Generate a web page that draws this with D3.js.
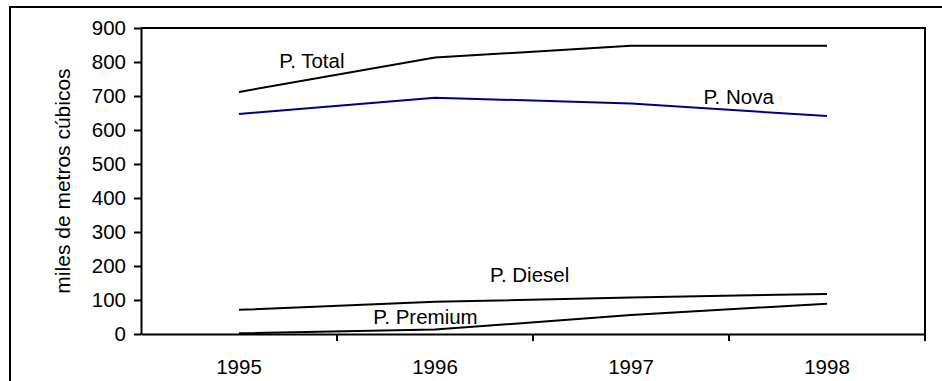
<!DOCTYPE html>
<html>
<head>
<meta charset="utf-8">
<script src="https://cdn.jsdelivr.net/npm/d3@7"></script>
<style>
  html, body { margin: 0; padding: 0; background: #fff; }
  svg { display: block; }
  text { font-family: "Liberation Sans", Arial, Helvetica, sans-serif; fill: #000; }
</style>
</head>
<body>
<svg id="chart" width="942" height="381"></svg>
<script>
// Years on the category axis
const years = ["1995", "1996", "1997", "1998"];

// Production by product, thousands of cubic metres
const total   = [712, 813, 848, 848];
const nova    = [647, 695, 678, 641];
const diesel  = [71, 95, 107, 118];
const premium = [2, 13, 56, 89];

const yTicks = [0, 100, 200, 300, 400, 500, 600, 700, 800, 900];
const yTitle = "miles de metros cúbicos";

const series = [
  { name: "P. Total",   values: total,   color: "#000000" },
  { name: "P. Nova",    values: nova,    color: "#000080" },
  { name: "P. Diesel",  values: diesel,  color: "#000000" },
  { name: "P. Premium", values: premium, color: "#000000" }
];

const svg = d3.select("#chart");
const plot = { left: 141, right: 925, top: 28, bottom: 334 };

// Outer chart frame (runs past the right and bottom edges of the view)
svg.append("rect")
  .attr("x", 10).attr("y", 7)
  .attr("width", 960).attr("height", 400)
  .attr("fill", "none").attr("stroke", "#000").attr("stroke-width", 2);

const x = d3.scaleBand().domain(years).range([plot.left, plot.right]).paddingInner(0).paddingOuter(0);
const y = d3.scaleLinear().domain([0, 900]).range([plot.bottom, plot.top]);
const cx = d => x(d) + x.bandwidth() / 2;

// Plot area border (top and right)
svg.append("path")
  .attr("d", `M${plot.left},${plot.top}H${plot.right}V${plot.bottom}`)
  .attr("fill", "none").attr("stroke", "#000").attr("stroke-width", 2);

// Y axis
const yAxis = d3.axisLeft(y).tickValues(yTicks).tickSize(7).tickPadding(8).tickSizeOuter(0);
const gy = svg.append("g").attr("transform", `translate(${plot.left},0)`).call(yAxis);
gy.select(".domain").attr("stroke-width", 2);
gy.selectAll(".tick line").attr("stroke-width", 2);
gy.selectAll(".tick text").style("font-size", "20.5px").attr("font-family", null);

// X axis: labels centred in bands, tick marks on band boundaries
const xAxis = d3.axisBottom(x).tickSize(0).tickPadding(25).tickSizeOuter(0);
const gx = svg.append("g").attr("transform", `translate(0,${plot.bottom})`).call(xAxis);
gx.select(".domain").attr("stroke-width", 2);
gx.selectAll(".tick text").style("font-size", "20.5px").attr("font-family", null);

const bounds = years.map(d => x(d) + x.bandwidth());
svg.append("g").selectAll("line").data(bounds).join("line")
  .attr("x1", d => d).attr("x2", d => d)
  .attr("y1", plot.bottom).attr("y2", plot.bottom + 7)
  .attr("stroke", "#000").attr("stroke-width", 2);

// Y axis title
svg.append("text")
  .attr("transform", `translate(70,${(plot.top + plot.bottom) / 2}) rotate(-90)`)
  .attr("text-anchor", "middle")
  .style("font-size", "21px")
  .text(yTitle);

// Series lines
const line = d3.line().x((d, i) => cx(years[i])).y(d => y(d));
svg.append("g").selectAll("path").data(series).join("path")
  .attr("d", s => line(s.values))
  .attr("fill", "none")
  .attr("stroke", s => s.color)
  .attr("stroke-width", 2);

// Series labels, placed in data space (fraction of a category step from the first year, value)
const step = x.step();
const labelAt = [
  { name: "P. Total",   t: 0.205, v: 782 },
  { name: "P. Nova",    t: 2.37,  v: 676 },
  { name: "P. Diesel",  t: 1.28,  v: 153 },
  { name: "P. Premium", t: 0.685, v: 29 }
];
svg.append("g").selectAll("text").data(labelAt).join("text")
  .attr("x", d => cx(years[0]) + d.t * step)
  .attr("y", d => y(d.v))
  .style("font-size", "20.5px")
  .text(d => d.name);
</script>
</body>
</html>
